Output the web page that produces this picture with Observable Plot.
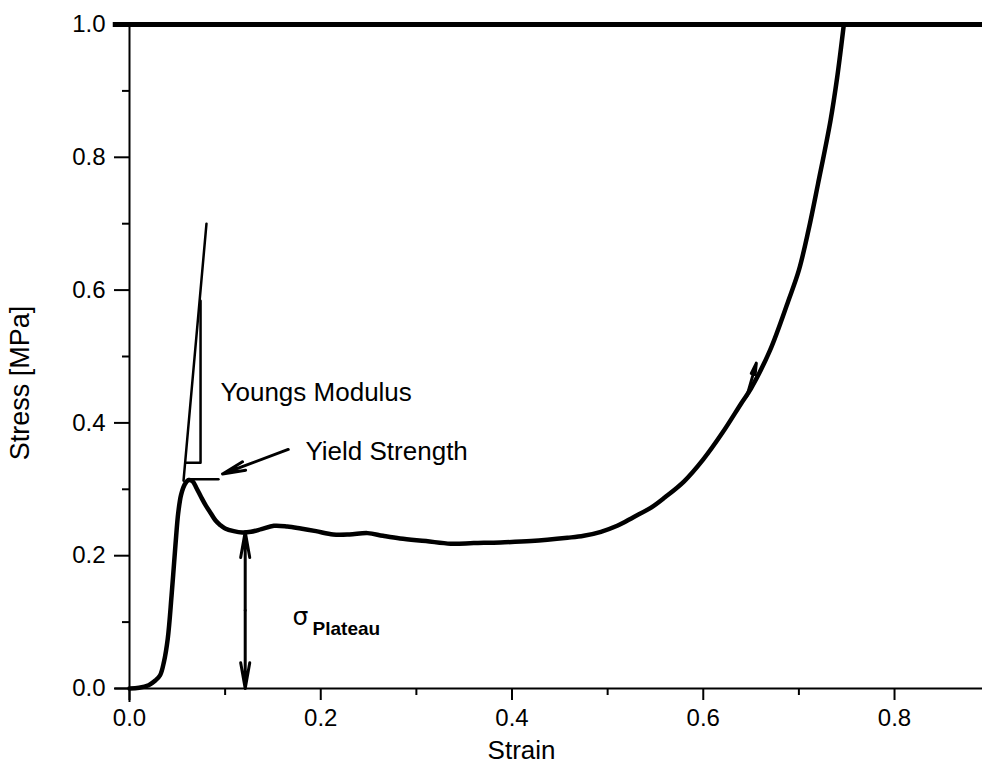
<!DOCTYPE html>
<html>
<head>
<meta charset="utf-8">
<script src="https://cdn.jsdelivr.net/npm/d3@7"></script>
<script src="https://cdn.jsdelivr.net/npm/@observablehq/plot@0.6"></script>
<style>
  html, body { margin: 0; padding: 0; background: #fff; }
  #chart { width: 982px; height: 783px; }
</style>
</head>
<body>
<div id="chart"></div>
<script>
// ---- Data ----
const strain = [0, 0.01, 0.02, 0.027, 0.032, 0.036, 0.040, 0.044, 0.048, 0.051, 0.054, 0.058, 0.062, 0.066, 0.070, 0.075, 0.080, 0.085, 0.090, 0.095, 0.100, 0.109, 0.118, 0.127, 0.138, 0.151, 0.165, 0.179, 0.195, 0.213, 0.230, 0.249, 0.265, 0.283, 0.31, 0.336, 0.36, 0.388, 0.42, 0.458, 0.475, 0.493, 0.51, 0.527, 0.545, 0.56, 0.58, 0.60, 0.62, 0.64, 0.65, 0.67, 0.689, 0.70, 0.71, 0.72, 0.733, 0.74, 0.747];
const stress = [0, 0.001, 0.005, 0.012, 0.02, 0.04, 0.075, 0.14, 0.215, 0.265, 0.292, 0.308, 0.314, 0.312, 0.302, 0.288, 0.275, 0.264, 0.253, 0.246, 0.241, 0.237, 0.235, 0.236, 0.240, 0.245, 0.244, 0.241, 0.237, 0.232, 0.232, 0.234, 0.230, 0.226, 0.222, 0.218, 0.219, 0.220, 0.222, 0.227, 0.230, 0.236, 0.245, 0.258, 0.272, 0.288, 0.312, 0.345, 0.385, 0.43, 0.452, 0.51, 0.584, 0.63, 0.69, 0.76, 0.855, 0.92, 1.0];

const xTicks = [0, 0.2, 0.4, 0.6, 0.8];
const xMinorTicks = [0.1, 0.3, 0.5, 0.7];
const yTicks = [0, 0.2, 0.4, 0.6, 0.8, 1.0];
const yMinorTicks = [0.1, 0.3, 0.5, 0.7, 0.9];

// Young's modulus construction (slope line + triangle)
const modulusX = [0.0565, 0.0805];
const modulusY = [0.313, 0.70];
const triangleX = [0.0586, 0.0743, 0.0743];
const triangleY = [0.340, 0.340, 0.584];

// Yield strength marker and arrow
const yieldLineX = [0.0617, 0.093];
const yieldLineY = [0.315, 0.315];
const yieldArrow = {x1: 0.166, y1: 0.360, x2: 0.0973, y2: 0.323};

// Plateau double arrow
const plateauX = 0.121;
const plateauStress = 0.236;

// Small arrow on the densification branch
const curveArrow = {x1: 0.6455, y1: 0.440, x2: 0.6555, y2: 0.490};

// Annotation labels
const labels = [
  {text: "Youngs Modulus", x: 0.0952, y: 0.446},
  {text: "Yield Strength", x: 0.184, y: 0.357}
];
const sigmaLabel = {x: 0.1705, y: 0.107};
const plateauLabel = {text: "Plateau", x: 0.1914, y: 0.090};

const xDomain = [0, 0.892];
const yDomain = [0, 1];

const curve = strain.map((s, i) => ({strain: s, stress: stress[i]}));
const font = "'Liberation Sans', Arial, Helvetica, sans-serif";

const chart = Plot.plot({
  width: 982,
  height: 783,
  marginLeft: 129,
  marginRight: 0,
  marginTop: 24,
  marginBottom: 95,
  style: {fontFamily: font, fontSize: "24px", color: "#000", background: "#fff", overflow: "visible"},
  x: {domain: xDomain},
  y: {domain: yDomain},
  marks: [
    // axes lines
    Plot.ruleX([0], {y1: -0.021, y2: 1, stroke: "#000", strokeWidth: 2}),
    Plot.ruleY([0], {x1: -0.015, x2: xDomain[1], stroke: "#000", strokeWidth: 2}),
    Plot.ruleY([1], {x1: -0.017, x2: xDomain[1], stroke: "#000", strokeWidth: 5}),
    // ticks
    Plot.axisX({ticks: xTicks, tickSize: 12, tickPadding: 8, tickFormat: d3.format(".1f"), label: null, strokeWidth: 2, fontSize: 24, letterSpacing: 1}),
    Plot.axisX({ticks: xMinorTicks, tickSize: 7, tickFormat: () => "", label: null, strokeWidth: 2}),
    Plot.axisY({ticks: yTicks, tickSize: 15, tickPadding: 9, tickFormat: d3.format(".1f"), label: null, strokeWidth: 2, fontSize: 24, letterSpacing: 1}),
    Plot.axisY({ticks: yMinorTicks, tickSize: 7, tickFormat: () => "", label: null, strokeWidth: 2}),
    // axis titles
    Plot.text(["Strain"], {x: 0.41, frameAnchor: "bottom", textAnchor: "middle", lineAnchor: "bottom", dy: 70, fontSize: 26, text: d => d}),
    Plot.text(["Stress [MPa]"], {y: 0.46, frameAnchor: "left", textAnchor: "middle", dx: -109, rotate: -90, fontSize: 27, text: d => d}),
    // data curve
    Plot.line(curve, {x: "strain", y: "stress", stroke: "#000", strokeWidth: 4.5, curve: "catmull-rom"}),
    // Young's modulus construction
    Plot.line(modulusX.map((x, i) => ({x, y: modulusY[i]})), {x: "x", y: "y", stroke: "#000", strokeWidth: 2.5}),
    Plot.line(triangleX.map((x, i) => ({x, y: triangleY[i]})), {x: "x", y: "y", stroke: "#000", strokeWidth: 2.5}),
    // yield strength
    Plot.line(yieldLineX.map((x, i) => ({x, y: yieldLineY[i]})), {x: "x", y: "y", stroke: "#000", strokeWidth: 2.5}),
    Plot.arrow([yieldArrow], {x1: "x1", y1: "y1", x2: "x2", y2: "y2", stroke: "#000", strokeWidth: 3, headLength: 26, headAngle: 22}),
    // plateau double arrow
    Plot.arrow([{x1: plateauX, y1: plateauStress / 2, x2: plateauX, y2: plateauStress}, {x1: plateauX, y1: plateauStress / 2, x2: plateauX, y2: 0}], {x1: "x1", y1: "y1", x2: "x2", y2: "y2", stroke: "#000", strokeWidth: 3, headLength: 22, headAngle: 20}),
    // arrow on curve
    Plot.arrow([curveArrow], {x1: "x1", y1: "y1", x2: "x2", y2: "y2", stroke: "#000", strokeWidth: 3, headLength: 30, headAngle: 20}),
    // labels
    Plot.text(labels, {x: "x", y: "y", text: "text", textAnchor: "start", fontSize: 26, fill: "#000"}),
    Plot.text(["σ"], {x: sigmaLabel.x, y: sigmaLabel.y, text: d => d, textAnchor: "start", fontSize: 25, fontFamily: "'DejaVu Sans', sans-serif", fill: "#000"}),
    Plot.text([plateauLabel], {x: "x", y: "y", text: "text", textAnchor: "start", fontSize: 19, fontWeight: "bold", fill: "#000"})
  ]
});
document.getElementById("chart").appendChild(chart);
</script>
</body>
</html>
